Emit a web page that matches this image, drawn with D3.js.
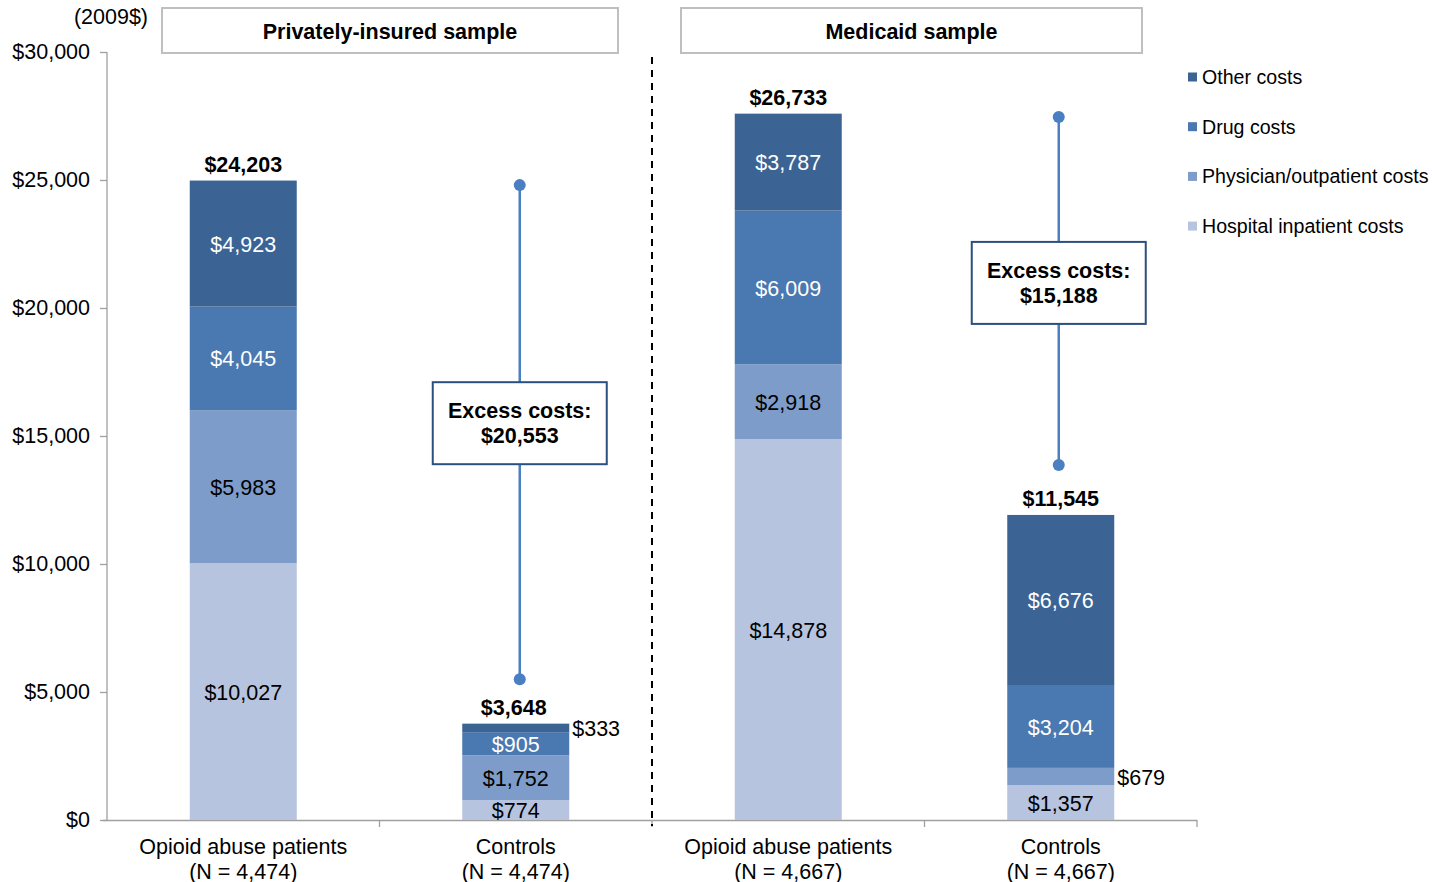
<!DOCTYPE html>
<html>
<head>
<meta charset="utf-8">
<script src="https://cdn.jsdelivr.net/npm/d3@7"></script>
<style>
  html, body { margin: 0; padding: 0; background: #fff; }
  svg { display: block; font-family: "Liberation Sans", Arial, sans-serif; }
</style>
</head>
<body>
<svg id="chart" width="1434" height="882"></svg>
<script>
// Annual costs per patient (2009$), by cost component
const groups = ["priv-opioid", "priv-control", "mcd-opioid", "mcd-control"];
const groupLine1 = ["Opioid abuse patients", "Controls", "Opioid abuse patients", "Controls"];
const groupLine2 = ["(N = 4,474)", "(N = 4,474)", "(N = 4,667)", "(N = 4,667)"];

const seriesNames = ["Hospital inpatient costs", "Physician/outpatient costs", "Drug costs", "Other costs"];
const hospital  = [10027, 774, 14878, 1357];
const physician = [5983, 1752, 2918, 679];
const drug      = [4045, 905, 6009, 3204];
const other     = [4923, 333, 3787, 6676];
const totalLabels = [24203, 3648, 26733, 11545];

const panels = ["Privately-insured sample", "Medicaid sample"];
const excessCosts = [20553, 15188];
const excessGroup = [1, 3];          // index of the control bar each excess marker sits on
const excessTop = [24800, 27460];
const excessBottom = [5500, 13870];
const excessBoxCenter = [15500, 20980];

const yTicks = [0, 5000, 10000, 15000, 20000, 25000, 30000];

const colors = ["#b7c4df", "#7e9cc9", "#4a78b0", "#3b6494"];
const textColors = ["#000", "#000", "#fff", "#fff"];

const FS = 21.5;     // main text size
const svg = d3.select("#chart");
const fmt = d3.format("$,");

const x = d3.scaleBand().domain(groups).range([107, 1197]).paddingInner(0).paddingOuter(0);
const y = d3.scaleLinear().domain([0, 30000]).range([820, 52]);
const barW = 107;

// stacked data
const table = groups.map((g, i) => ({ g, hospital: hospital[i], physician: physician[i], drug: drug[i], other: other[i] }));
const keys = ["hospital", "physician", "drug", "other"];
const stacked = d3.stack().keys(keys)(table);

// y axis
const yAxis = svg.append("g").attr("transform", "translate(107,0)")
  .call(d3.axisLeft(y).tickValues(yTicks).tickFormat(d => fmt(d)).tickSize(7).tickPadding(10));
yAxis.select(".domain").attr("stroke", "#a0a0a0").attr("stroke-width", 1.3).attr("d", "M0,52V820");
yAxis.selectAll(".tick line").attr("stroke", "#a0a0a0").attr("stroke-width", 1.3);
yAxis.selectAll(".tick text").attr("font-size", FS).attr("fill", "#000")
  .attr("font-family", "Liberation Sans, Arial, sans-serif").attr("x", -17);

// x axis baseline and separators
const boundaries = [x(groups[1]), x(groups[2]), x(groups[3]), x(groups[3]) + x.bandwidth()];
svg.append("line").attr("x1", 103).attr("x2", 1197).attr("y1", 820.5).attr("y2", 820.5)
  .attr("stroke", "#a0a0a0").attr("stroke-width", 1.3);
svg.selectAll(".xtick").data(boundaries).join("line").attr("class", "xtick")
  .attr("x1", d => d).attr("x2", d => d).attr("y1", 820).attr("y2", 827)
  .attr("stroke", "#a0a0a0").attr("stroke-width", 1.3);

// bars
const layers = svg.selectAll(".layer").data(stacked).join("g").attr("class", "layer")
  .attr("fill", (d, i) => colors[i]);
layers.selectAll("rect").data(d => d).join("rect")
  .attr("x", d => x(d.data.g) + x.bandwidth() / 2 - barW / 2)
  .attr("width", barW)
  .attr("y", d => y(d[1]))
  .attr("height", d => y(d[0]) - y(d[1]));

// segment labels: thin segments get their label beside the bar
stacked.forEach((layer, li) => {
  layer.forEach((d) => {
    const v = d[1] - d[0];
    const cx = x(d.data.g) + x.bandwidth() / 2;
    const thin = (y(d[0]) - y(d[1])) < 18.5;
    const t = svg.append("text")
      .attr("font-size", FS)
      .attr("dominant-baseline", "central")
      .text(fmt(v));
    if (thin) {
      t.attr("x", cx + barW / 2 + 3).attr("y", (y(d[0]) + y(d[1])) / 2 + 1)
        .attr("text-anchor", "start").attr("fill", "#000");
    } else {
      t.attr("x", cx).attr("y", (y(d[0]) + y(d[1])) / 2 + 1)
        .attr("text-anchor", "middle").attr("fill", textColors[li]);
    }
  });
});

// totals above bars
const topLayer = stacked[stacked.length - 1];
svg.selectAll(".total").data(topLayer).join("text").attr("class", "total")
  .attr("x", d => x(d.data.g) + x.bandwidth() / 2 + (d.data.g === "priv-control" ? -2 : 0))
  .attr("y", d => y(d[1]) - 9)
  .attr("text-anchor", "middle").attr("font-size", FS).attr("font-weight", "bold")
  .text((d, i) => fmt(totalLabels[i]));

// category labels
groups.forEach((g, i) => {
  const cx = x(g) + x.bandwidth() / 2;
  svg.append("text").attr("x", cx).attr("y", 853.5).attr("text-anchor", "middle")
    .attr("font-size", FS).text(groupLine1[i]);
  svg.append("text").attr("x", cx).attr("y", 878.5).attr("text-anchor", "middle")
    .attr("font-size", FS).text(groupLine2[i]);
});

// dashed divider between samples
svg.append("line").attr("x1", 652).attr("x2", 652).attr("y1", 57).attr("y2", 826)
  .attr("stroke", "#000").attr("stroke-width", 2).attr("stroke-dasharray", "7,6");

// panel headers
const panelBoxes = [[162, 618], [681, 1142]];
panels.forEach((p, i) => {
  const [x0, x1] = panelBoxes[i];
  svg.append("rect").attr("x", x0).attr("y", 8).attr("width", x1 - x0).attr("height", 45)
    .attr("fill", "#fff").attr("stroke", "#bfbfbf").attr("stroke-width", 2);
  svg.append("text").attr("x", (x0 + x1) / 2).attr("y", 32).attr("text-anchor", "middle")
    .attr("dominant-baseline", "central").attr("font-size", FS).attr("font-weight", "bold").text(p);
});

// unit note
svg.append("text").attr("x", 148).attr("y", 17).attr("text-anchor", "end")
  .attr("dominant-baseline", "central").attr("font-size", FS).text("(2009$)");

// excess cost markers
excessCosts.forEach((v, i) => {
  const cx = x(groups[excessGroup[i]]) + x.bandwidth() / 2 + (i === 0 ? 4 : -2);
  svg.append("line").attr("x1", cx).attr("x2", cx)
    .attr("y1", y(excessTop[i])).attr("y2", y(excessBottom[i]))
    .attr("stroke", "#4a7fc1").attr("stroke-width", 2.5);
  [excessTop[i], excessBottom[i]].forEach(e => {
    svg.append("circle").attr("cx", cx).attr("cy", y(e)).attr("r", 6).attr("fill", "#4a7fc1");
  });
  const by = y(excessBoxCenter[i]);
  const bw = 174, bh = 82;
  svg.append("rect").attr("x", cx - bw / 2).attr("y", by - bh / 2).attr("width", bw).attr("height", bh)
    .attr("fill", "#fff").attr("stroke", "#2b4f7e").attr("stroke-width", 2);
  svg.append("text").attr("x", cx).attr("y", by - 12).attr("text-anchor", "middle")
    .attr("dominant-baseline", "central").attr("font-size", FS).attr("font-weight", "bold")
    .text("Excess costs:");
  svg.append("text").attr("x", cx).attr("y", by + 13).attr("text-anchor", "middle")
    .attr("dominant-baseline", "central").attr("font-size", FS).attr("font-weight", "bold")
    .text(fmt(v));
});

// legend (top series first)
const legendOrder = [3, 2, 1, 0];
legendOrder.forEach((si, k) => {
  const ly = 77 + k * 49.7;
  svg.append("rect").attr("x", 1188).attr("y", ly - 4.5).attr("width", 9).attr("height", 9).attr("fill", colors[si]);
  svg.append("text").attr("x", 1202).attr("y", ly).attr("dominant-baseline", "central")
    .attr("font-size", 19.6).text(seriesNames[si]);
});
</script>
</body>
</html>
